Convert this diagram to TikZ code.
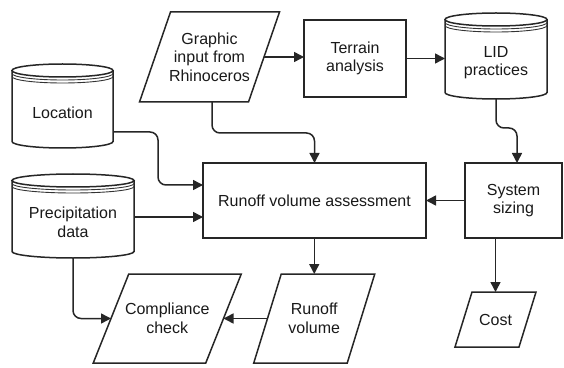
\documentclass[tikz,border=0pt]{standalone}
\usepackage{fontspec}
\setmainfont{Liberation Sans}
\usetikzlibrary{arrows.meta,calc}
\begin{document}
\begin{tikzpicture}[x=1pt,y=1pt,
  lbl/.style={font=\fontsize{16}{18.5}\selectfont, align=center, inner sep=0pt, outer sep=0pt, text=black!90},
  boxn/.style={lbl, draw=black!85, line width=1.5pt},
  plain/.style={lbl},
  outline/.style={line width=1.5pt, draw=black!85, line join=miter},
  thinline/.style={line width=0.9pt, draw=black!80},
  conn/.style={line width=1.5pt, draw=black!85, rounded corners=8pt, -{Triangle[length=10pt,width=10pt]}}]
\useasboundingbox (0,0) rectangle (564,367);
% nodes
\node[plain, minimum width=109pt, minimum height=90pt] (gi) at (209.5,310) {Graphic\\input from\\Rhinoceros};
\node[boxn, minimum width=102pt, minimum height=77pt] (ta) at (355,308.5) {Terrain\\analysis};
\node[plain, minimum width=102pt, minimum height=73pt] (lid) at (496,304.5) {LID\\practices};
\node[plain, minimum width=101pt, minimum height=71pt] (loc) at (62.5,254.5) {Location};
\node[plain, minimum width=122pt, minimum height=71pt] (prec) at (73,144.5) {Precipitation\\data};
\node[boxn, minimum width=223pt, minimum height=75pt] (rva) at (314.5,166.5) {Runoff volume assessment};
\node[boxn, minimum width=97pt, minimum height=75pt] (sys) at (513.5,166.5) {System\\sizing};
\node[plain, minimum width=112.5pt, minimum height=89pt] (comp) at (167.25,48.5) {Compliance\\check};
\node[plain, minimum width=93.5pt, minimum height=89pt] (rv) at (314.25,48.5) {Runoff\\volume};
\node[plain, minimum width=64pt, minimum height=55pt] (cost) at (495.5,47.5) {Cost};
% parallelogram outlines
\foreach \n/\dd in {gi/15.5, comp/17.75, rv/13.75, cost/8.5}{
  \draw[outline] ($(\n.north west)+(\dd,0)$) -- ($(\n.north east)+(\dd,0)$) -- ($(\n.south east)+(-\dd,0)$) -- ($(\n.south west)+(-\dd,0)$) -- cycle;
}
% cylinder outlines
\foreach \n/\rr in {lid/51, loc/50.5, prec/61}{
  \draw[outline] ($(\n.north west)+(0,6.5)$) -- ($(\n.south west)+(0,6.5)$) arc[start angle=180,end angle=360,x radius=\rr,y radius=6.5] -- ($(\n.north east)+(0,6.5)$);
  \draw[outline] ($(\n.north)+(0,6.5)$) ellipse[x radius=\rr, y radius=6.5];
  \draw[thinline] ($(\n.north west)+(0,3.5)$) arc[start angle=180,end angle=360,x radius=\rr,y radius=6.5];
  \draw[thinline] ($(\n.north west)+(0,0.5)$) arc[start angle=180,end angle=360,x radius=\rr,y radius=6.5];
}
% connectors
\draw[conn] (gi.east) -- (gi.east -| ta.west);
\draw[conn] (ta.east) -- (ta.east -| lid.west);
\draw[conn] (lid.south) -- ++(0,-29) -| ([xshift=3.5pt]sys.north);
\draw[conn] ([xshift=2.5pt]gi.south) -- ++(0,-31) -| (rva.north);
\coordinate (locout) at ([yshift=-19.5pt]loc.east);
\coordinate (locin) at ([yshift=15.5pt]rva.west);
\draw[conn] (locout) -| ([xshift=-45pt]locin) -- (locin);
\coordinate (precout) at ([yshift=5.5pt]prec.east);
\draw[conn] (precout) -- (precout -| rva.west);
\draw[conn] (sys.west) -- (sys.west -| rva.east);
\draw[conn] (rv.north |- rva.south) -- (rv.north);
\draw[conn] (cost.north |- sys.south) -- (cost.north);
\draw[conn] (rv.west) -- (comp.east);
\draw[conn] (prec.south) |- (comp.west);
\end{tikzpicture}
\end{document}
